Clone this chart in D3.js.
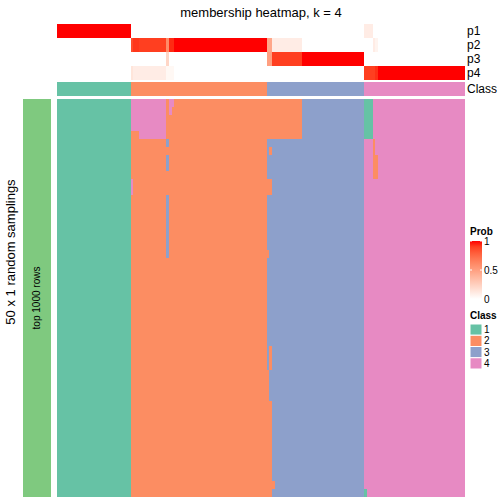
<!DOCTYPE html>
<html>
<head>
<meta charset="utf-8">
<script src="https://cdn.jsdelivr.net/npm/d3@7"></script>
<style>
  html, body { margin: 0; padding: 0; background: #fff; }
  svg text { font-family: "Liberation Sans", Arial, sans-serif; }
</style>
</head>
<body>
<svg id="chart" width="504" height="504"></svg>
<script>
// ---------------- data ----------------
const title = "membership heatmap, k = 4";
const nSamples = 150;
const nSamplings = 50;
const classes = [1, 2, 3, 4];
const classColors = ["#66C2A5", "#FC8D62", "#8DA0CB", "#E78AC3"];
// consensus class of each sample as runs: [class, count]
const consensusRuns = [[1, 27], [2, 50], [3, 36], [4, 37]];
// membership probabilities: [firstSample, lastSample, value]; other samples are 0
const p1Runs = [[0, 26, 1], [113, 115, 0.1]];
const p2Runs = [[27, 27, 0.86], [28, 29, 0.92], [30, 39, 0.9], [40, 40, 0.6], [41, 42, 0.95],
                [43, 76, 1], [77, 78, 0.46], [79, 89, 0.1], [116, 116, 0.1], [117, 117, 0.06]];
const p3Runs = [[40, 40, 0.22], [77, 78, 0.5], [79, 89, 0.9], [90, 112, 1]];
const p4Runs = [[27, 27, 0.14], [28, 39, 0.1], [40, 42, 0.04], [113, 116, 0.9], [117, 117, 0.94], [118, 149, 1]];
const probRowLabels = ["p1", "p2", "p3", "p4"];
// samplings that disagree with the consensus: [firstRow, lastRow, firstSample, lastSample, class]
const samplingExceptions = [
  [0, 4, 27, 39, 4], [4, 4, 27, 29, 2], [0, 0, 41, 42, 4], [1, 1, 41, 41, 4],
  [5, 5, 40, 40, 3], [7, 8, 40, 40, 3], [12, 19, 40, 40, 3], [10, 11, 27, 27, 4],
  [0, 4, 77, 89, 2], [6, 6, 78, 78, 2], [10, 11, 77, 78, 2], [19, 19, 77, 77, 2],
  [31, 33, 78, 78, 2], [34, 37, 77, 77, 2], [38, 49, 77, 78, 2], [48, 48, 79, 79, 2],
  [0, 4, 113, 115, 1], [5, 6, 116, 116, 2], [7, 9, 116, 117, 2], [49, 49, 113, 113, 1]
];
const probLegendTicks = [0, 0.5, 1];
const probLegendLabels = ["0", "0.5", "1"];
const rowTitle = "50 x 1 random samplings";
const rowGroupLabel = "top 1000 rows";

// ---------------- build tables ----------------
const consensus = [];
consensusRuns.forEach(([c, n]) => { for (let i = 0; i < n; i++) consensus.push(c); });
function expandRuns(runs) {
  const a = new Array(nSamples).fill(0);
  runs.forEach(([s, e, v]) => { for (let i = s; i <= e; i++) a[i] = v; });
  return a;
}
const probs = [p1Runs, p2Runs, p3Runs, p4Runs].map(expandRuns);
const matrix = d3.range(nSamplings).map(() => consensus.slice());
samplingExceptions.forEach(([r0, r1, c0, c1, k]) => {
  for (let r = r0; r <= r1; r++) for (let c = c0; c <= c1; c++) matrix[r][c] = k;
});

// ---------------- scales ----------------
const svg = d3.select("#chart");
const x = d3.scaleBand().domain(d3.range(nSamples)).range([57.4, 465]);
const yProb = d3.scaleBand().domain(probRowLabels).range([24, 80]);
const classRowY = [82, 96];
const y = d3.scaleBand().domain(d3.range(nSamplings)).range([99, 497]);
const probColor = d3.scaleLinear().domain([0, 1]).range(["#FFFFFF", "#FF0000"]).interpolate(d3.interpolateLab);
const classColor = d3.scaleOrdinal().domain(classes).range(classColors);

// title
svg.append("text").attr("x", 261).attr("y", 17).attr("text-anchor", "middle")
  .attr("font-size", 13).text(title);

// probability rows
const gp = svg.append("g").attr("shape-rendering", "crispEdges");
probRowLabels.forEach((lab, j) => {
  gp.selectAll(null).data(probs[j]).join("rect")
    .attr("x", (d, i) => x(i)).attr("width", x.bandwidth() + 0.3)
    .attr("y", yProb(lab)).attr("height", yProb.bandwidth())
    .attr("fill", d => probColor(d));
  svg.append("text").attr("x", 467).attr("y", yProb(lab) + yProb.bandwidth() / 2 + 4)
    .attr("font-size", 12).text(lab);
});
// class row
gp.selectAll(null).data(consensus).join("rect")
  .attr("x", (d, i) => x(i)).attr("width", x.bandwidth() + 0.3)
  .attr("y", classRowY[0]).attr("height", classRowY[1] - classRowY[0])
  .attr("fill", d => classColor(d));
svg.append("text").attr("x", 467).attr("y", (classRowY[0] + classRowY[1]) / 2 + 4)
  .attr("font-size", 12).text("Class");

// main membership heatmap
const gm = svg.append("g").attr("shape-rendering", "crispEdges");
matrix.forEach((row, r) => {
  gm.selectAll(null).data(row).join("rect")
    .attr("x", (d, i) => x(i)).attr("width", x.bandwidth() + 0.3)
    .attr("y", y(r)).attr("height", y.bandwidth() + 0.3)
    .attr("fill", d => classColor(d));
});

// left annotation
svg.append("rect").attr("x", 23).attr("y", 99).attr("width", 28).attr("height", 398)
  .attr("fill", "#7FC97F");
svg.append("text").attr("transform", "translate(40,298) rotate(-90)")
  .attr("text-anchor", "middle").attr("font-size", 10).text(rowGroupLabel);
svg.append("text").attr("transform", "translate(15,252) rotate(-90)")
  .attr("text-anchor", "middle").attr("font-size", 13).text(rowTitle);

// legend: Prob
const lg = svg.append("g");
lg.append("text").attr("x", 470).attr("y", 235).attr("font-size", 10)
  .attr("font-weight", "bold").text("Prob");
const legY = d3.scaleLinear().domain([0, 1]).range([299, 241]);
const grad = svg.append("defs").append("linearGradient").attr("id", "pg")
  .attr("x1", 0).attr("y1", 1).attr("x2", 0).attr("y2", 0);
d3.range(0, 1.01, 0.1).forEach(t => {
  grad.append("stop").attr("offset", t).attr("stop-color", probColor(t));
});
lg.append("rect").attr("x", 470).attr("y", legY(1)).attr("width", 12)
  .attr("height", legY(0) - legY(1)).attr("fill", "url(#pg)");
probLegendTicks.forEach((t, i) => {
  lg.append("line").attr("x1", 470).attr("x2", 472).attr("y1", legY(t)).attr("y2", legY(t))
    .attr("stroke", "#fff").attr("stroke-width", 1);
  lg.append("line").attr("x1", 480).attr("x2", 482).attr("y1", legY(t)).attr("y2", legY(t))
    .attr("stroke", "#fff").attr("stroke-width", 1);
  lg.append("text").attr("x", 484).attr("y", legY(t) + 3.5).attr("font-size", 10)
    .text(probLegendLabels[i]);
});

// legend: Class
lg.append("text").attr("x", 470).attr("y", 319).attr("font-size", 10)
  .attr("font-weight", "bold").text("Class");
const boxY = d3.scaleBand().domain(classes).range([324, 369]);
classes.forEach(c => {
  lg.append("rect").attr("x", 470).attr("y", boxY(c)).attr("width", 12)
    .attr("height", boxY.bandwidth()).attr("fill", classColor(c))
    .attr("stroke", "#fff").attr("stroke-width", 1);
  lg.append("text").attr("x", 484).attr("y", boxY(c) + boxY.bandwidth() / 2 + 3.5)
    .attr("font-size", 10).text(String(c));
});
</script>
</body>
</html>
